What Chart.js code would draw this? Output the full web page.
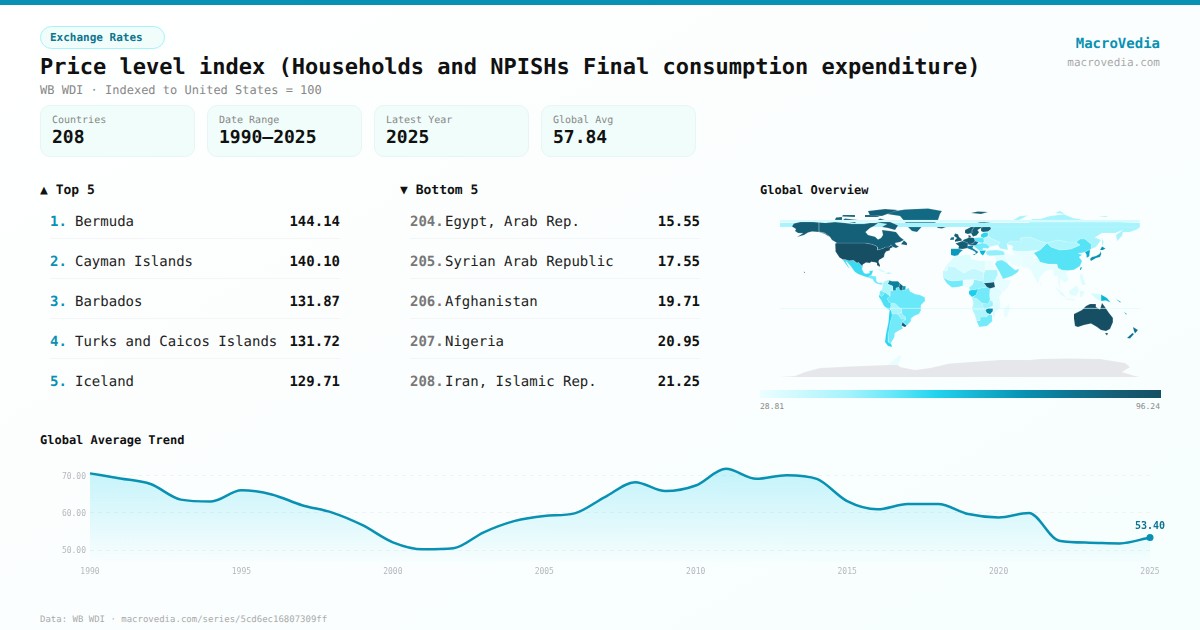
<!DOCTYPE html>
<html>
<head>
<meta charset="utf-8">
<title>Price level index</title>
<script src="https://cdn.jsdelivr.net/npm/chart.js@4"></script>
<style>
* { box-sizing: border-box; margin: 0; padding: 0; }
html, body { width: 1200px; height: 630px; overflow: hidden; }
body { position: relative; font-family: "DejaVu Sans Mono", monospace; color: #111; text-rendering: geometricPrecision;
  background: linear-gradient(150deg, #ffffff 0%, #fbfefe 50%, #f6fefe 100%); }
.abs { position: absolute; white-space: nowrap; }
#topbar { left: 0; top: 0; width: 1200px; height: 5px; background: #0891b2; }
#badge { left: 40px; top: 26px; width: 125px; height: 23px; line-height: 21px; padding-left: 9px; border: 1px solid #a5f3fc; border-radius: 12px;
  background: #f0fdfa; color: #0e7490; font-size: 11px; font-weight: 700; }
#title { left: 40px; top: 54px; font-size: 22px; line-height: 28px; font-weight: 700; color: #111; }
#subtitle { left: 40px; top: 82px; font-size: 12px; line-height: 16px; color: #888; }
#brand { right: 40px; top: 36px; font-size: 14px; line-height: 17px; font-weight: 700; color: #0891b2; }
#site { right: 40px; top: 56px; font-size: 11px; line-height: 14px; color: #aaa; }
.card { top: 105px; width: 155px; height: 52px; border: 1px solid #e8f5f5; border-radius: 10px; background: #f0fdfa; padding: 8px 11px; }
.card .lab { font-size: 10px; line-height: 13px; color: #888; }
.card .val { font-size: 18px; line-height: 22px; font-weight: 700; color: #111; }
.head { font-size: 12px; line-height: 16px; font-weight: 700; color: #111; }
.head.big { font-size: 13px; top: 183px; }
.row { width: 290px; height: 36px; padding-top: 2px; display: flex; align-items: center; font-size: 14px; border-bottom: 1px solid #f3f5f6; }
.row.last { border-bottom: none; }
.row .rk { font-weight: 700; }
.row .nm { flex: 1; color: #222; }
.row .vl { font-weight: 700; color: #111; }
#scaleBar { left: 760px; top: 390px; width: 401px; height: 8px;
  background: linear-gradient(90deg, #ecfeff, #a5f3fc 22%, #67e8f9 33%, #22d3ee 44%, #0891b2 66%, #0e7490 78%, #155e75 89%, #164e63); }
.tiny { font-size: 8px; line-height: 10px; color: #888; }
#footer { left: 40px; top: 614px; font-size: 9px; line-height: 12px; color: #aaa; }
canvas { position: absolute; }
</style>
</head>
<body>
<div class="abs" id="topbar"></div>
<div class="abs" id="badge">Exchange Rates</div>
<div class="abs" id="title">Price level index (Households and NPISHs Final consumption expenditure)</div>
<div class="abs" id="subtitle">WB WDI · Indexed to United States = 100</div>
<div class="abs" id="brand">MacroVedia</div>
<div class="abs" id="site">macrovedia.com</div>
<div id="cards"></div>
<div class="abs head big" style="left:40px">▲ Top 5</div>
<div class="abs head big" style="left:400px">▼ Bottom 5</div>
<div class="abs head" style="left:760px;top:182px">Global Overview</div>
<div class="abs head" style="left:40px;top:432px">Global Average Trend</div>
<div id="lists"></div>
<canvas id="mapChart" width="360" height="180" style="left:780px;top:202px"></canvas>
<div class="abs" id="scaleBar"></div>
<div class="abs tiny" style="left:760px;top:402px">28.81</div>
<div class="abs tiny" style="right:40px;top:402px">96.24</div>
<canvas id="trendChart" width="1150" height="130" style="left:40px;top:450px"></canvas>
<div class="abs" id="footer">Data: WB WDI · macrovedia.com/series/5cd6ec16807309ff</div>

<script>
// --- Header stats ---
const statLabels = ['Countries', 'Date Range', 'Latest Year', 'Global Avg'];
const statValues = ['208', '1990–2025', '2025', '57.84'];

// --- Rankings ---
const topRanks = ['1.', '2.', '3.', '4.', '5.'];
const topNames = ['Bermuda', 'Cayman Islands', 'Barbados', 'Turks and Caicos Islands', 'Iceland'];
const topValues = ['144.14', '140.10', '131.87', '131.72', '129.71'];
const bottomRanks = ['204.', '205.', '206.', '207.', '208.'];
const bottomNames = ['Egypt, Arab Rep.', 'Syrian Arab Republic', 'Afghanistan', 'Nigeria', 'Iran, Islamic Rep.'];
const bottomValues = ['15.55', '17.55', '19.71', '20.95', '21.25'];

// --- Trend ---
const years = ['1990','1991','1992','1993','1994','1995','1996','1997','1998','1999','2000','2001','2002','2003','2004','2005','2006','2007','2008','2009','2010','2011','2012','2013','2014','2015','2016','2017','2018','2019','2020','2021','2022','2023','2024','2025'];
const globalAvg = [70.67,69.3,67.8,63.6,63.1,66.1,65.0,62.1,60.1,56.7,52.1,50.2,50.5,54.8,57.8,59.2,59.9,64.3,68.3,65.9,67.4,71.9,69.2,70.2,69.2,63.2,61.0,62.4,62.4,59.7,58.8,60.0,52.5,52.0,51.8,53.4];
const yTicks = [50, 60, 70];
const xTicks = ['1990','1995','2000','2005','2010','2015','2020','2025'];

// --- Map shapes, [lon, lat] ---
const thinBand = [[-180,72],[180,72],[180,70],[-180,70]];
const wrapBand = [[-180,69.3],[180,69.3],[180,65],[-180,65]];
const fijiBand = [[-180,-15.9],[180,-15.9],[180,-16.6],[-180,-16.6]];
const canada = [[-141,69.6],[-141,60.3],[-135,59],[-130,55],[-128,52],[-123,49],[-95,49],[-89,48],[-84.5,46.5],[-82.5,45],[-82.5,42],[-79,43],[-76,44],[-75,45],[-71,45],[-69,47.3],[-67,45],[-64,44],[-61,45.5],[-64,47],[-65,49],[-60,50],[-56,52],[-60,55],[-64,60],[-70,61],[-78,62],[-77,57],[-79,54],[-82,52.5],[-85,55.3],[-92,57],[-94.5,60],[-90,64],[-86,66],[-82,69],[-90,69],[-96,68],[-108,68],[-115,69],[-125,70],[-135,69]];
const baffin = [[-80,73.5],[-72,71],[-62,66.5],[-65,62],[-72,64],[-78,65],[-73,68],[-85,70]];
const victoriaIs = [[-118,71],[-105,69],[-102,72],[-115,73.5]];
const ellesmere = [[-90,76.5],[-78,76],[-62,82],[-75,83],[-92,81]];
const banksIs = [[-125,72],[-118,72],[-118,75],[-124,74.5]];
const devonIs = [[-95,75],[-80,75],[-85,77],[-95,77]];
const melvilleIs = [[-118,75.5],[-105,75],[-105,77],[-117,77]];
const newfoundland = [[-59,47.7],[-53,46.7],[-53,49],[-56,51.5]];
const usa = [[-124.7,48.4],[-123,49],[-95,49],[-89,48],[-84.5,46.5],[-82.5,45],[-82.5,42],[-79,43],[-76,44],[-75,45],[-71,45],[-69,47.3],[-67,45],[-70,43.5],[-70,41.7],[-74,40.5],[-75.5,38],[-76,35],[-78,33.8],[-81,32],[-81.5,30],[-80,26.8],[-80.5,25],[-82,26.5],[-83,29],[-85,29.7],[-89,30.3],[-90,29],[-94,29.5],[-97.2,27.5],[-97.2,26],[-99.5,27.5],[-101.5,29.8],[-103,29],[-106.5,31.7],[-111,31.3],[-114.8,32.5],[-117.2,32.5],[-120.5,34.5],[-122.5,37.5],[-124.3,40.3],[-124.5,43]];
const alaska = [[-168,65.5],[-164,63],[-165,61],[-162,59],[-157,58.8],[-163,55],[-156,57],[-152,59.5],[-148,60.5],[-141,60],[-135,58],[-131,55],[-134,58.5],[-141,60.3],[-141,69.6],[-156,71],[-166,68.5]];
const hawaii = [[-156.3,20.6],[-154.8,19.5],[-155.8,18.9]];
const greenland = [[-73,78],[-60,76],[-55,70],[-52,65],[-48,61],[-43,60],[-38,65.5],[-25,69],[-22,72],[-20,78],[-18,81],[-32,83.5],[-55,82.5],[-68,80.5]];
const iceland = [[-24,65.5],[-22,64],[-18,63.5],[-14,65],[-16,66.5],[-22,66]];
const mexico = [[-117.2,32.5],[-114.8,32.5],[-111,31.3],[-106.5,31.7],[-103,29],[-101.5,29.8],[-99.5,27.5],[-97.2,26],[-97.8,22.5],[-96,19],[-94,18.2],[-91,18.7],[-90.5,21],[-87,21.5],[-88,18],[-92,14.6],[-96,15.8],[-102,18],[-105.5,20.5],[-109,25.5],[-112.5,29.5],[-114.5,31],[-113,28],[-110,23],[-112,25],[-115,29]];
const centralAm = [[-92,14.6],[-88,18],[-88.5,16],[-84,15.8],[-83.2,15],[-83.7,11],[-81.5,9],[-79,9.5],[-77.3,8.5],[-78,7.3],[-80,7.5],[-83,8.2],[-85.8,10],[-87.5,13]];
const cuba = [[-85,22],[-80,23],[-74.2,20.2],[-78,19.9],[-82,22]];
const hispaniola = [[-74.4,18.5],[-71,19.9],[-68.4,18.6],[-71.5,17.8]];
const colombia = [[-77.3,8.5],[-75.5,10.7],[-72,12],[-71,11],[-72.5,8],[-70,7],[-67.5,6],[-67.5,2],[-70,1],[-69.8,-4.2],[-72,-2.5],[-75,-0.2],[-78.8,1.4],[-77.5,4],[-77.5,7]];
const venezuela = [[-72,12],[-68,10.7],[-62,10.7],[-60,8.5],[-61,5],[-64,4],[-64,1.5],[-67,1.5],[-67.5,6],[-70,7],[-72.5,8],[-71,11]];
const guyana = [[-60,8.5],[-57,6],[-58,1.5],[-60,2],[-61,5]];
const suriname = [[-57,6],[-54,5.8],[-54.5,2.3],[-58,1.8]];
const ecuador = [[-80.5,-2],[-80,0.8],[-78.8,1.4],[-75,-0.2],[-78.3,-4.5]];
const peru = [[-81.3,-4.5],[-80.5,-2.5],[-78.3,-4.5],[-75,-0.2],[-72,-2.5],[-69.8,-4.2],[-73,-6.5],[-71,-10],[-69,-11],[-69.5,-16.5],[-70.4,-18.3],[-76,-14],[-79,-8]];
const brazil = [[-60,5],[-58,1.5],[-54.5,2.3],[-51.5,4.3],[-50,0.5],[-44.5,-2.3],[-40,-3],[-35,-5.5],[-35,-9],[-39,-13],[-39,-18],[-41,-22],[-45,-23.5],[-48.5,-26],[-49,-29],[-53.3,-33.7],[-57.5,-30],[-54,-27],[-54.5,-25],[-58,-22],[-58,-17],[-60,-16],[-65,-11.5],[-69,-11],[-71,-10],[-73,-6.5],[-69.8,-4.2],[-70,1],[-67,1.5],[-64,1.5],[-64,4]];
const bolivia = [[-69,-11],[-65,-11.5],[-60,-16],[-58,-17],[-58,-20],[-62.5,-22],[-66,-22],[-68,-21],[-69.5,-16.5]];
const paraguay = [[-62.5,-22],[-58,-20],[-58,-22],[-54.5,-25],[-54.7,-27],[-58.5,-27]];
const uruguay = [[-58.4,-33.5],[-57.5,-30],[-53.3,-33.7],[-55,-35]];
const chile = [[-70.4,-18.3],[-68.5,-18],[-68,-24],[-70,-31],[-71.5,-40],[-72,-46],[-72,-50],[-68.5,-52.5],[-68,-55],[-72,-54],[-75,-50],[-74,-42],[-71.5,-30]];
const argentina = [[-68,-21],[-66,-22],[-62.5,-22],[-58.5,-27],[-54.7,-27],[-57.5,-30],[-58.4,-33.5],[-57,-36.5],[-62,-39],[-65,-41],[-65.5,-45],[-69,-51],[-68.5,-52.5],[-72,-50],[-72,-46],[-71.5,-40],[-70,-31],[-68,-24]];
const norway = [[5,59],[5,62],[10,64.5],[14,68],[20,70],[28,71],[30,70],[25,69],[20,69],[15,66],[12,62],[12,59],[8,58]];
const svalbard = [[11,79],[21,78],[28,80],[18,80.5]];
const sweden = [[11,59],[12,62],[15,66],[20,69],[24,66],[21,64],[17.5,62],[19,59.7],[16.5,56.5],[13,55.5]];
const finland = [[20,69],[25,69],[29,69.5],[31,63],[28,60.5],[23,60],[21,61],[21,64],[24,66]];
const uk = [[-5,50.2],[1.5,51.3],[1.7,52.8],[-1,55],[-2,57.7],[-5,58.5],[-6,56],[-3,54],[-5,52]];
const ireland = [[-10,52],[-6,52.2],[-6,55],[-9,54.5]];
const france = [[-4.5,48.5],[2.5,51],[8,49],[7.5,44],[3,43],[-1.7,43.3],[-1,46]];
const iberia = [[-9,43.2],[-1.7,43.3],[3,42],[0,39.5],[-2,36.8],[-5.5,36],[-9,37]];
const germany = [[2.5,51],[4,52.5],[7,53.5],[9,54.8],[14,54],[15,51],[13,48.5],[8,47.6],[8,49]];
const denmark = [[8,55],[8.5,57],[11,56],[10.5,54.8]];
const italy = [[7,44],[7,46],[13.5,46.5],[12.5,44],[16,41.5],[18.4,40],[16,38],[15.5,40],[12,42]];
const sicily = [[12.5,38],[15.5,38],[15,36.7]];
const austria = [[8,47.6],[13,48.5],[15,51],[18.5,49.8],[17,48],[16,46.8],[13.5,46.5],[10,46.8]];
const poland = [[14,54],[19,54.4],[23.5,54],[24,50.5],[22.5,49],[18.5,49.8],[15,51]];
const baltics = [[21,57.5],[24,59.4],[28,59.4],[28,56],[23.5,54],[21,55.3]];
const balkans = [[16,46.8],[17,48],[22.5,49],[27,48],[29.5,45],[28,43.5],[23,44],[22.5,41.5],[19.5,41.5],[14,45.5]];
const greece = [[19.5,41.5],[26,41.5],[24,38],[23,36.5],[21,38]];
const ukraine = [[23.5,54],[28,56],[32,53],[40,49.5],[38,47],[33,46],[29.5,45],[27,48],[22.5,49],[24,50.5]];
const turkey = [[26,40],[28,41.5],[36,42],[42,41.3],[44.5,39.5],[44.5,37],[36,36.5],[30,36.3],[27,37]];
const russia = [[28,70],[33,69],[41,67.5],[44,68.5],[54,68.5],[68,68.5],[72,73],[80,73],[90,76],[104,77.7],[113,74],[130,71],[150,71],[160,70],[170,69.5],[180,69],[180,65],[177,62.5],[170,60],[163,60],[162,56],[157,51],[156,57],[163,62],[155,59],[142,59],[135,54.5],[141,52],[136,45],[131,43],[131,48],[125,53],[120,53],[116,50],[107,50],[98,52],[87,49],[80,51],[70,55],[60,54],[61,51],[50,51],[47,48],[48,42],[40,43.5],[38,47],[40,49.5],[32,53],[28,56],[28,60],[31,63],[29,69.5]];
const novayaZemlya = [[52,71],[57,70.7],[68,76.5],[60,76]];
const severnaya = [[95,79],[105,78],[100,81]];
const newSiberian = [[138,75],[148,75],[146,76]];
const sakhalin = [[142,54],[143.5,50],[143,46],[142,48]];
const kazakhstan = [[47,48],[50,51],[61,51],[60,54],[70,55],[80,51],[87,49],[80,42],[68,41],[56,41],[52,42],[53,46]];
const mongolia = [[87,49],[98,52],[107,50],[116,50],[120,47],[111,43],[100,42],[91,45]];
const china = [[74,39],[80,42],[87,49],[91,45],[100,42],[111,43],[120,47],[116,50],[120,53],[125,53],[131,48],[135,48],[131,43],[125,40],[121,39],[118,39],[122,37],[119,35],[122,31],[120,26],[114,22.3],[108,21.5],[102,22],[98,24],[97,28],[88,28],[80,30],[78,34]];
const centralAsia = [[52,42],[56,41],[68,41],[80,42],[74,37],[66,37],[61,35.5],[54,37.5]];
const iran = [[44.5,39.5],[48,38.5],[50,37],[54,37],[61,36.5],[61,31],[62,25],[57,26],[52,27],[48.5,30],[46,34],[44.5,37]];
const pakistan = [[61,36],[66,37],[74,37],[74,33],[75,31],[71,27],[68,24],[62,25],[61,31]];
const india = [[74,34],[78,34],[80,30],[88,27],[96,28],[93,23],[89,22],[85,20],[80,15],[78,8],[73,17],[72,21],[68,24],[71,27],[75,31]];
const seAsia = [[93,23],[96,28],[98,24],[102,22],[108,21.5],[106,19],[109,13],[105,9],[103,11],[100,13],[100,7],[103,1.5],[100,5],[98,9],[98,16],[94,16]];
const sumatra = [[95,5.5],[104,-2],[106,-6],[101,-3]];
const java = [[105,-6.5],[114,-7],[114,-8.5],[106,-7.5]];
const borneo = [[109,1],[117,7],[119,1],[116,-4],[110,-3]];
const sulawesi = [[120,1],[125,1],[122,-5],[120,-5]];
const westPapua = [[131,-1],[141,-2.5],[141,-9],[138,-8],[133,-4]];
const png = [[141,-2.5],[147,-6],[150.5,-10.5],[146,-8.5],[141,-9]];
const philippines = [[120.5,18.5],[122,18],[124,12],[126,7],[122,7],[120,14]];
const taiwan = [[121,25],[122,24.5],[120.8,22],[120,23.5]];
const sriLanka = [[80,9.5],[82,7.5],[80.5,6]];
const honshu = [[130,33],[131,31],[136,34],[140,35],[141.5,38.5],[141,41],[139.5,38],[136,36],[132,35]];
const hokkaido = [[140,42],[142,45.5],[145.5,43.5],[143,42]];
const korea = [[125,40],[130,42.5],[129.3,36],[128,34.7],[126.3,34.5],[126.5,37.5]];
const saudi = [[35,28],[37,31],[42,32],[47,29],[50,26],[55,22],[59,23],[58,20],[52,16],[43,13],[39,21]];
const levant = [[36,36.5],[44.5,37],[46,34],[48.5,30],[47,29],[42,32],[37,31],[35,31]];
const maghreb = [[-17,21],[-13,27.5],[-9.5,31],[-6,35.8],[2,36.8],[10,37.3],[11,33],[20,31],[25,31.5],[25,20],[24,19.5],[16,23],[12,23.5],[4,19],[-5,25],[-12,26],[-13,21]];
const egypt = [[25,31.5],[34,31.3],[33,28],[37,22],[25,22]];
const sahel = [[-17,21],[-13,21],[-12,26],[-5,25],[4,19],[12,23.5],[16,23],[24,19.5],[23,11],[14,12.5],[3,12],[-8,11],[-12,12],[-17,14.7]];
const nigeria = [[3,6.3],[3,12],[14,12.5],[13,8],[9,4.5],[6,4.3]];
const westAfrica = [[-17,14.7],[-12,12],[-8,11],[3,12],[3,6.3],[-2,5],[-8,4.5],[-13,8.5]];
const sudan = [[24,19.5],[25,22],[37,22],[38,18],[36,14],[34,10],[24,9],[23,11]];
const southSudan = [[24,9],[34,10],[35,5],[30,3.5],[27,5]];
const hornAfrica = [[36,14],[38,18],[43,12],[51,12],[48,5],[42,-1.5],[41,3],[35,5],[34,10]];
const cameroon = [[14,12.5],[23,11],[24,9],[27,5],[18,3.5],[16,2],[10,2],[9,4.5],[13,8]];
const gabon = [[9,1],[14,3.5],[18,3.5],[16,-3],[12,-5],[9,-2]];
const drc = [[18,3.5],[27,5],[30,3.5],[29.5,-3],[30,-8],[28,-12],[22,-11],[16,-6],[12,-6],[16,-3]];
const eastAfrica = [[30,3.5],[35,5],[41,3],[42,-1.5],[39,-5],[40.5,-10.5],[35,-11],[30,-8],[29.5,-3]];
const angola = [[12,-6],[16,-6],[22,-11],[24,-18],[12,-17],[13.5,-11]];
const zambia = [[22,-11],[28,-12],[30,-8],[33,-9.5],[33,-14],[28,-16],[24,-18]];
const mozambique = [[35,-11],[40.5,-10.5],[40,-16],[35,-20],[35,-24],[32.8,-26],[33,-19],[33,-14],[33,-9.5]];
const zimbabwe = [[25.5,-18],[28,-16],[33,-16],[33,-19],[30,-22.3],[27,-21]];
const namibia = [[12,-17],[24,-18],[25.5,-18],[27,-21],[29,-22.5],[26,-25],[20,-25],[20,-28.5],[16.5,-28.5],[14.5,-22]];
const southAfrica = [[16.5,-28.5],[20,-28.5],[20,-25],[26,-25],[29,-22.5],[32,-23],[32.8,-26],[32,-29],[27,-34],[19,-35],[18,-32]];
const madagascar = [[44,-16],[49.5,-12],[50,-16],[47,-25],[44,-25],[43.5,-20]];
const australia = [[114,-22],[122,-18],[126,-14],[130,-12],[136,-12],[136,-15],[140,-17.5],[142,-11],[145,-15],[149,-21],[153,-26],[153,-30],[150,-37],[146,-39],[141,-38],[137,-35],[131,-31.5],[124,-33],[118,-35],[115,-34],[114,-27]];
const tasmania = [[145,-41],[148,-41],[147,-43.5]];
const nzNorth = [[173,-35],[178,-38],[175,-41.5],[174,-39]];
const nzSouth = [[172.5,-41],[174,-42],[170,-46.5],[167,-46]];
const newCaledonia = [[164,-20],[167,-22],[166,-22.4]];
const solomon = [[156,-7],[161,-10],[160,-10.4]];
const antarctica = [[-180,-85],[-165,-84],[-155,-80],[-140,-76],[-110,-74.5],[-85,-73.5],[-72,-73],[-62,-73],[-60,-75],[-45,-78],[-30,-76],[-10,-71.5],[10,-70],[40,-68],[70,-68],[80,-67],[110,-66.5],[140,-67],[165,-71],[170,-75],[162,-80],[175,-84],[180,-85]];
const peninsula = [[-72,-73],[-62,-64],[-58,-63],[-60,-68],[-62,-73]];

// drawing order matters, the wrap bands sit over Canada but under Greenland
const mapShapes = [thinBand, canada, baffin, victoriaIs, ellesmere, banksIs, devonIs, melvilleIs, newfoundland, usa, alaska, hawaii, wrapBand, fijiBand, greenland, iceland, mexico, centralAm, cuba, hispaniola, colombia, venezuela, guyana, suriname, ecuador, peru, brazil, bolivia, paraguay, uruguay, chile, argentina, norway, svalbard, sweden, finland, uk, ireland, france, iberia, germany, denmark, italy, sicily, austria, poland, baltics, balkans, greece, ukraine, turkey, russia, novayaZemlya, severnaya, newSiberian, sakhalin, kazakhstan, mongolia, china, centralAsia, iran, pakistan, india, seAsia, sumatra, java, borneo, sulawesi, westPapua, png, philippines, taiwan, sriLanka, honshu, hokkaido, korea, saudi, levant, maghreb, egypt, sahel, nigeria, westAfrica, sudan, southSudan, hornAfrica, cameroon, gabon, drc, eastAfrica, angola, zambia, mozambique, zimbabwe, namibia, southAfrica, madagascar, australia, tasmania, nzNorth, nzSouth, newCaledonia, solomon, antarctica, peninsula];
const mapValues = [35, 88, 88, 88, 88, 88, 88, 88, 88, 96, 89, 90, 43, 38, 85, 90, 56, 50, 35, 40, 42, 78, 88, 72, 50, 54, 51, 43, 45, 90, 58, 50, 89, 89, 89, 88, 90, 83, 89, 72, 89, 92, 78, 78, 85, 52, 58, 50, 66, 40, 46, 43, 43, 43, 43, 43, 40, 42, 53, 30, 29, 30, 31, 31, 32, 32, 32, 32, 35, 66, 33, 70, 30, 74, 74, 68, 50, 31, 33, 29, 38, 29, 50, 42, 92, 30, 46, 60, 50, 32, 42, 45, 33, 74, 42, 50, 30, 96, 96, 82, 82, 70, 70, null, 30];
const mapMin = 28.81;
const mapMax = 96.24;
const rampColors = [[236,254,255],[207,250,254],[165,243,252],[103,232,249],[34,211,238],[6,182,212],[8,145,178],[14,116,144],[21,94,117],[22,78,99]];
const noDataColor = '#e5e7eb';

function valueColor(v) {
  if (v === null) return noDataColor;
  const t = Math.min(1, Math.max(0, (v - mapMin) / (mapMax - mapMin))) * (rampColors.length - 1);
  const i = Math.min(Math.floor(t), rampColors.length - 2);
  const a = rampColors[i], b = rampColors[i + 1], f = t - i;
  return `rgb(${a.map((c, k) => Math.round(c + (b[k] - c) * f)).join(',')})`;
}

// --- DOM bits ---
function renderCards() {
  const lefts = [40, 207, 374, 541];
  document.getElementById('cards').innerHTML = statLabels.map((l, i) => `
    <div class="abs card" style="left:${lefts[i]}px">
      <div class="lab">${l}</div>
      <div class="val">${statValues[i]}</div>
    </div>`).join('');
}

function renderList(left, rankW, rankColor, ranks, names, values) {
  return names.map((n, i) => `
    <div class="abs row${i === names.length - 1 ? ' last' : ''}" style="left:${left}px;top:${203 + i * 40}px">
      <span class="rk" style="width:${rankW}px;color:${rankColor}">${ranks[i]}</span>
      <span class="nm">${n}</span>
      <span class="vl">${values[i]}</span>
    </div>`).join('');
}

document.getElementById('lists').innerHTML =
  renderList(50, 25, '#0891b2', topRanks, topNames, topValues) +
  renderList(410, 35, '#777', bottomRanks, bottomNames, bottomValues);
renderCards();

// --- Map chart ---
new Chart(document.getElementById('mapChart'), {
  type: 'scatter',
  data: {
    datasets: mapShapes.map((shape, i) => ({
      data: shape.map(p => ({ x: p[0], y: p[1] })),
      showLine: true,
      fill: 'shape',
      tension: 0,
      pointRadius: 0,
      borderWidth: 0.4,
      borderColor: 'rgba(255,255,255,0.35)',
      backgroundColor: valueColor(mapValues[i])
    }))
  },
  options: {
    responsive: false,
    animation: false,
    events: [],
    layout: { padding: 0 },
    plugins: { legend: { display: false }, tooltip: { enabled: false } },
    scales: {
      x: { type: 'linear', min: -180, max: 180, display: false },
      y: { type: 'linear', min: -90, max: 90, display: false }
    }
  }
});

// --- Trend chart ---
const lastLabel = {
  id: 'lastLabel',
  afterDatasetsDraw(chart) {
    const pt = chart.getDatasetMeta(0).data[globalAvg.length - 1];
    const c = chart.ctx;
    c.save();
    c.font = '700 10px "DejaVu Sans Mono"';
    c.fillStyle = '#0e7490';
    c.textAlign = 'center';
    c.fillText(globalAvg[globalAvg.length - 1].toFixed(2), pt.x, pt.y - 8);
    c.restore();
  }
};

const trendCtx = document.getElementById('trendChart').getContext('2d');
const areaGrad = trendCtx.createLinearGradient(0, 17, 0, 112);
areaGrad.addColorStop(0, 'rgba(34,211,238,0.26)');
areaGrad.addColorStop(1, 'rgba(34,211,238,0.01)');

new Chart(trendCtx, {
  type: 'line',
  data: {
    labels: years,
    datasets: [{
      data: globalAvg,
      borderColor: '#0891b2',
      borderWidth: 2.5,
      cubicInterpolationMode: 'monotone',
      fill: 'start',
      backgroundColor: areaGrad,
      clip: false,
      pointRadius: c => c.dataIndex === globalAvg.length - 1 ? 3.5 : 0,
      pointBackgroundColor: '#0891b2',
      pointBorderWidth: 0
    }]
  },
  plugins: [lastLabel],
  options: {
    responsive: false,
    animation: false,
    events: [],
    layout: { padding: { top: 8, right: 40, left: 0, bottom: 0 } },
    plugins: { legend: { display: false }, tooltip: { enabled: false } },
    scales: {
      x: {
        offset: false,
        grid: { display: false, drawTicks: false },
        border: { display: false },
        afterFit: s => { s.height = 18; },
        ticks: {
          autoSkip: false, maxRotation: 0, padding: 5, color: '#b5b8bd',
          font: { size: 8, family: 'DejaVu Sans Mono' },
          callback(v) { const y = this.getLabelForValue(v); return xTicks.includes(y) ? y : ''; }
        }
      },
      y: {
        min: 46.79,
        max: 74.6,
        border: { display: false, dash: [4, 4] },
        grid: { color: '#eff3f4', lineWidth: 1, drawTicks: false, tickLength: 0 },
        afterBuildTicks: s => { s.ticks = yTicks.map(v => ({ value: v })); },
        afterFit: s => { s.width = 50; },
        ticks: {
          padding: 4, labelOffset: 1, color: '#b5b8bd',
          font: { size: 8, family: 'DejaVu Sans Mono' },
          callback: v => v.toFixed(2)
        }
      }
    }
  }
});
</script>
</body>
</html>
